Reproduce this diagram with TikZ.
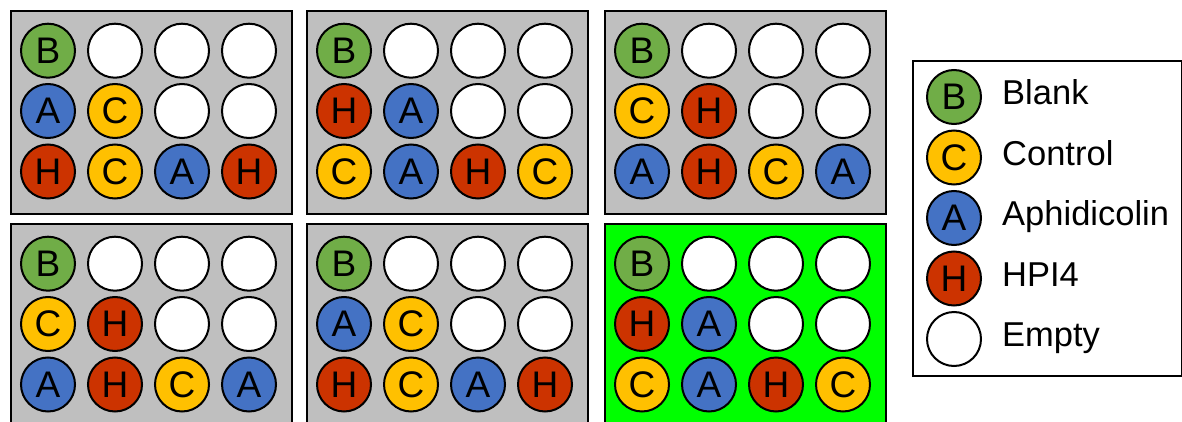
\documentclass[tikz,border=0pt]{standalone}
\usepackage{fontspec}
\setmainfont{Liberation Sans}
\definecolor{blankgreen}{HTML}{70AD47}
\definecolor{ctrlyellow}{HTML}{FFC000}
\definecolor{aphblue}{HTML}{4472C4}
\definecolor{hpired}{HTML}{CC3300}
\definecolor{plategray}{HTML}{BFBFBF}
\definecolor{brightgreen}{HTML}{00FF00}
\tikzset{
  well/.style={circle, draw=black, line width=2pt, minimum size=54pt, inner sep=0pt, font=\fontsize{37}{37}\selectfont},
  wB/.style={well, fill=blankgreen},
  wC/.style={well, fill=ctrlyellow},
  wA/.style={well, fill=aphblue},
  wH/.style={well, fill=hpired},
  wE/.style={well, fill=white},
  platebox/.style={draw=black, line width=2pt},
  legtext/.style={anchor=base west, inner sep=0pt, font=\fontsize{34.5}{34.5}\selectfont},
}
\newcommand\welltxt[1]{\if E#1\else#1\fi}
% #1 name, #2 x, #3 y top, #4 bottom, #5 fill, #6-#8 rows
\newcommand\drawplate[8]{%
  \node[platebox, fill=#5, minimum width=281pt, minimum height={#4-#3}, anchor=north west, inner sep=0pt] (#1) at (#2,#3) {};
  \foreach \k [count=\c] in {#6} {\node[w\k] (#1-1-\c) at ({#2+38+67*(\c-1)},{#3+40.7}) {\welltxt{\k}};}
  \foreach \k [count=\c] in {#7} {\node[w\k] (#1-2-\c) at ({#2+38+67*(\c-1)},{#3+101}) {\welltxt{\k}};}
  \foreach \k [count=\c] in {#8} {\node[w\k] (#1-3-\c) at ({#2+38+67*(\c-1)},{#3+161.5}) {\welltxt{\k}};}
}
\begin{document}
\begin{tikzpicture}[x=1pt,y=-1pt]
\useasboundingbox (0,0) rectangle (1182,422);
\drawplate{p1}{10}{10}{213}{plategray}{B,E,E,E}{A,C,E,E}{H,C,A,H}
\drawplate{p2}{306}{10}{213}{plategray}{B,E,E,E}{H,A,E,E}{C,A,H,C}
\drawplate{p3}{604}{10}{213}{plategray}{B,E,E,E}{C,H,E,E}{A,H,C,A}
\drawplate{p4}{10}{223}{432}{plategray}{B,E,E,E}{C,H,E,E}{A,H,C,A}
\drawplate{p5}{306}{223}{432}{plategray}{B,E,E,E}{A,C,E,E}{H,C,A,H}
\drawplate{p6}{604}{223}{432}{brightgreen}{B,E,E,E}{H,A,E,E}{C,A,H,C}
% legend
\node[platebox, fill=white, anchor=north west, minimum width=269pt, minimum height=315pt, inner sep=0pt] (legend) at (912,60) {};
\node[wB] (lB) at (954,97) {B};
\node[wC] (lC) at (954,157.5) {C};
\node[wA] (lA) at (954,218) {A};
\node[wH] (lH) at (954,278.5) {H};
\node[wE] (lE) at (954,339) {};
\node[legtext] (tB) at (1002,104.3) {Blank};
\node[legtext] (tC) at (1002,165) {Control};
\node[legtext] (tA) at (1002,225.5) {Aphidicolin};
\node[legtext] (tH) at (1002,286) {HPI4};
\node[legtext] (tE) at (1002,346.5) {Empty};
\end{tikzpicture}
\end{document}
